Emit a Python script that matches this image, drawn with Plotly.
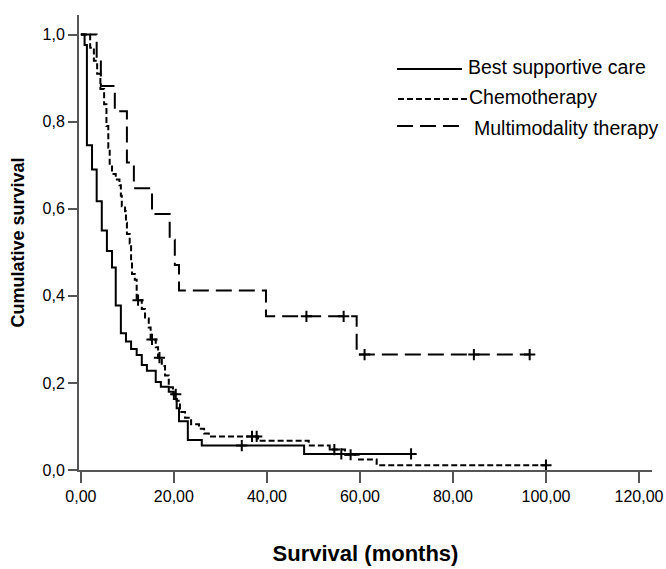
import numpy as np
import plotly.graph_objects as go

# ---------------- data ----------------
bsc_time = [0, 0.8, 1.3, 2.4, 3.4, 4.5, 5.6, 6.7, 7.5, 8.6, 9.7, 10.8, 12.0, 13.1,
            14.2, 16.1, 17.2, 18.9, 20.0, 20.6, 21.1, 23.0, 26.0, 48.0, 71.0]
bsc_surv = [1.0, 0.976, 0.746, 0.69, 0.617, 0.55, 0.503, 0.465, 0.378, 0.314, 0.295,
            0.278, 0.264, 0.241, 0.228, 0.202, 0.191, 0.18, 0.163, 0.142, 0.112, 0.069,
            0.056, 0.037, 0.037]
bsc_cens = [34.6, 56.0, 71.0]

chemo_time = [0, 2.0, 2.8, 3.5, 4.2, 5.0, 5.5, 5.9, 6.2, 6.7, 7.5, 8.3, 8.6, 8.8, 9.5,
              9.7, 9.9, 10.5, 10.8, 11.0, 11.6, 12.0, 13.1, 13.8, 14.6, 15.0, 16.1,
              16.6, 17.4, 18.1, 18.9, 19.8, 20.6, 21.3, 22.4, 23.7, 25.4, 26.5, 27.5,
              38.1, 49.0, 53.5, 56.8, 59.8, 63.6, 100.0]
chemo_surv = [1.0, 0.97, 0.94, 0.91, 0.875, 0.84, 0.79, 0.74, 0.70, 0.68, 0.667, 0.654,
              0.63, 0.606, 0.594, 0.568, 0.542, 0.52, 0.48, 0.45, 0.437, 0.39, 0.37,
              0.348, 0.327, 0.30, 0.282, 0.258, 0.239, 0.217, 0.19, 0.174, 0.159, 0.133,
              0.12, 0.105, 0.095, 0.084, 0.077, 0.067, 0.056, 0.047, 0.035, 0.024,
              0.011, 0.011]
chemo_cens = [12.3, 15.3, 16.9, 20.4, 36.8, 37.8, 54.5, 58.0, 100.0]

multi_time = [0, 3.4, 4.3, 7.3, 9.9, 11.4, 15.3, 19.1, 20.2, 21.1, 39.8, 59.3, 96.5]
multi_surv = [1.0, 0.941, 0.882, 0.824, 0.706, 0.647, 0.588, 0.529, 0.471, 0.412,
              0.353, 0.265, 0.265]
multi_cens = [48.5, 56.5, 61.0, 84.5, 96.5]

groups = ["Best supportive care", "Chemotherapy", "Multimodality therapy"]

x_ticks = [0, 20, 40, 60, 80, 100, 120]
x_tick_text = ["0,00", "20,00", "40,00", "60,00", "80,00", "100,00", "120,00"]
y_ticks = [0.0, 0.2, 0.4, 0.6, 0.8, 1.0]
y_tick_text = ["0,0", "0,2", "0,4", "0,6", "0,8", "1,0"]

# ---------------- figure ----------------
W, H = 666, 569
L, R, T, B = 79, 14, 15, 99
FONT = "Liberation Sans, Arial, sans-serif"

dashes = ["solid", "6px,3px", "16px,7px"]
series = [(bsc_time, bsc_surv, bsc_cens),
          (chemo_time, chemo_surv, chemo_cens),
          (multi_time, multi_surv, multi_cens)]

fig = go.Figure()
for name, dash, (t, s, c) in zip(groups, dashes, series):
    fig.add_trace(go.Scatter(x=t, y=s, mode="lines", name=name, showlegend=False,
                             line=dict(color="black", width=2, dash=dash, shape="hv")))
    t_arr = np.array(t)
    s_arr = np.array(s)
    idx = np.searchsorted(t_arr, np.array(c), side="right") - 1
    fig.add_trace(go.Scatter(x=c, y=s_arr[idx], mode="markers", showlegend=False,
                             hoverinfo="skip",
                             marker=dict(symbol="cross-thin", size=8, color="black",
                                         line=dict(color="black", width=2))))

# manual legend (pixel positions -> paper coordinates)
pw, ph = W - L - R, H - T - B


def px(xp):
    return (xp - L) / pw


def py(yp):
    return (H - B - yp) / ph


legend_rows = [(69, 67, 397, 462, 466), (99, 97, 398, 467, 467), (126, 128, 397, 462, 472)]
for name, dash, (ly, ty, x0, x1, tx) in zip(groups, dashes, legend_rows):
    fig.add_shape(type="line", xref="paper", yref="paper", x0=px(x0), x1=px(x1),
                  y0=py(ly), y1=py(ly), line=dict(color="black", width=2, dash=dash))
    fig.add_annotation(xref="paper", yref="paper", x=px(tx), y=py(ty), text=name,
                       showarrow=False, xanchor="left", yanchor="middle",
                       font=dict(family=FONT, size=19.5, color="black"))

axis_common = dict(showline=True, linecolor="#555555", linewidth=2, ticks="outside",
                   tickwidth=2, tickcolor="#555555", showgrid=False, zeroline=False,
                   tickfont=dict(family=FONT, size=16, color="black"))

fig.update_layout(
    width=W, height=H,
    margin=dict(l=L, r=R, t=T, b=B, autoexpand=False),
    paper_bgcolor="white", plot_bgcolor="white",
    xaxis=dict(range=[-0.4, 122.8], tickvals=x_ticks, ticktext=x_tick_text, ticklen=11,
               title=dict(text="<b>Survival (months)</b>", standoff=41,
                          font=dict(family=FONT, size=22, color="black")),
               **axis_common),
    yaxis=dict(range=[0, 1.045], tickvals=y_ticks, ticktext=y_tick_text, ticklen=9,
               title=dict(text="<b>Cumulative survival</b>", standoff=13,
                          font=dict(family=FONT, size=18, color="black")),
               **axis_common),
)

fig.write_html("out.html",
               config={"displayModeBar": False},
               post_script="document.body.style.margin='0px';"
                           "document.body.style.overflow='hidden';")
